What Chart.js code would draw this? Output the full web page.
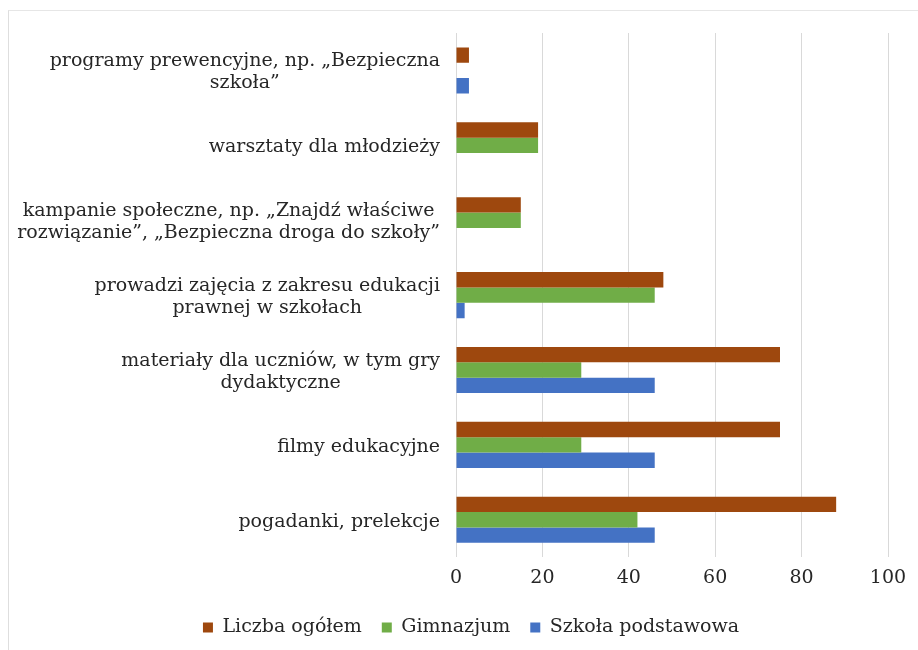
<!DOCTYPE html>
<html>
<head>
<meta charset="utf-8">
<script src="https://cdn.jsdelivr.net/npm/chart.js@4.4.0/dist/chart.umd.min.js"></script>
<style>
    html, body { margin: 0; padding: 0; background: #fff; }
    #wrap { position: relative; width: 918px; height: 650px; }
    #frame { position: absolute; left: 8px; top: 10px; right: 0; bottom: 0; border-left: 1px solid #dedede; border-top: 1px solid #e6e6e6; }
</style>
</head>
<body>
<div id="wrap">
    <div id="frame"></div>
    <canvas id="chart" width="918" height="650"></canvas>
</div>
<script>
const categories = [
    ["programy prewencyjne, np. „Bezpieczna", "szkoła”"],
    ["warsztaty dla młodzieży"],
    ["kampanie społeczne, np. „Znajdź właściwe", "rozwiązanie”, „Bezpieczna droga do szkoły”"],
    ["prowadzi zajęcia z zakresu edukacji", "prawnej w szkołach"],
    ["materiały dla uczniów, w tym gry", "dydaktyczne"],
    ["filmy edukacyjne"],
    ["pogadanki, prelekcje"]
];
const ogolem = [3, 19, 15, 48, 75, 75, 88];
const gimnazjum = [0, 19, 15, 46, 29, 29, 42];
const podstawowa = [3, 0, 0, 2, 46, 46, 46];
const xTicks = [0, 20, 40, 60, 80, 100];

const FONT = "'DejaVu Serif', serif";
const TEXT = "#262626";

// category labels drawn as centered blocks, right edge near the axis
const catLabels = {
    id: "catLabels",
    afterDraw(chart) {
        const c = chart.ctx;
        const y = chart.scales.y;
        c.save();
        c.font = "19px " + FONT;
        c.fillStyle = TEXT;
        c.textAlign = "center";
        c.textBaseline = "middle";
        const right = chart.chartArea.left - 16;
        const lh = 22;
        categories.forEach((lines, i) => {
            const yc = y.getPixelForValue(i) + 2;
            const w = Math.max(...lines.map(l => c.measureText(l).width));
            const cx = right - w / 2;
            const top = yc - (lines.length - 1) * lh / 2;
            lines.forEach((l, j) => c.fillText(l, cx, top + j * lh));
        });
        c.restore();
    }
};

const chart = new Chart(document.getElementById("chart"), {
    type: "bar",
    data: {
        labels: categories.map(l => l.join(" ")),
        datasets: [
            { label: "Liczba ogółem", data: ogolem, backgroundColor: "#9E480E" },
            { label: "Gimnazjum", data: gimnazjum, backgroundColor: "#70AD47" },
            { label: "Szkoła podstawowa", data: podstawowa, backgroundColor: "#4472C4" }
        ]
    },
    options: {
        indexAxis: "y",
        responsive: false,
        animation: false,
        categoryPercentage: 0.615,
        barPercentage: 1,
        layout: { padding: { left: 54, right: 30, top: 33, bottom: 3 } },
        scales: {
            y: {
                grid: { display: false },
                border: { display: false },
                ticks: { display: false },
                afterFit: s => { s.width = 402; }
            },
            x: {
                min: 0, max: 100,
                afterBuildTicks: s => { s.ticks = xTicks.map(v => ({ value: v })); },
                grid: { color: "#d9d9d9", drawTicks: false },
                border: { display: false },
                ticks: { font: { family: FONT, size: 19 }, color: TEXT, padding: 9 }
            }
        },
        plugins: {
            tooltip: { enabled: false },
            legend: {
                position: "bottom",
                labels: {
                    boxWidth: 10, boxHeight: 10, padding: 20,
                    font: { family: FONT, size: 19 }, color: TEXT
                }
            }
        }
    },
    plugins: [catLabels]
});
</script>
</body>
</html>
